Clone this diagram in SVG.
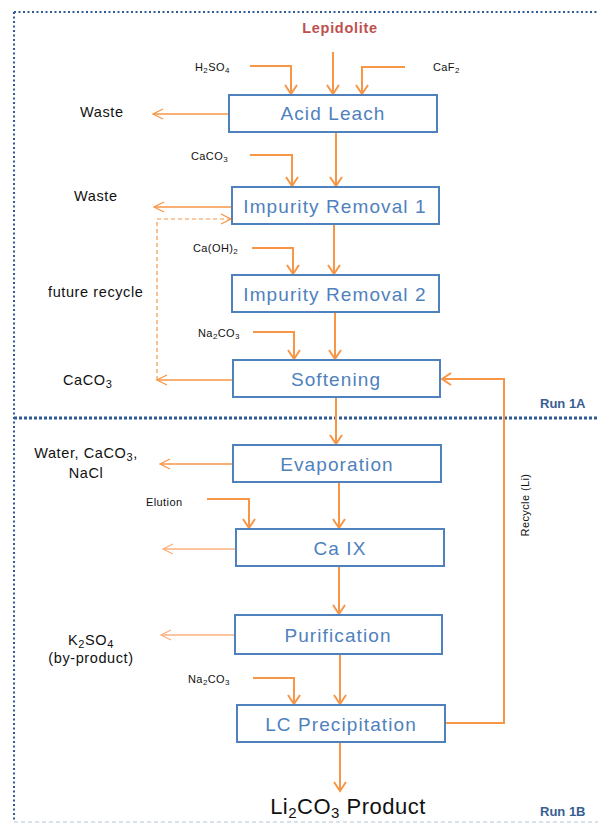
<svg xmlns="http://www.w3.org/2000/svg" width="598" height="824" viewBox="0 0 598 824">
<style>
.box{fill:#fff;stroke:#4F81BD;stroke-width:2}
.bt{font-family:"Liberation Sans",Arial,sans-serif;font-size:19px;fill:#4F81BD;text-anchor:middle;letter-spacing:1.1px}
.lbl{font-family:"Liberation Sans",Arial,sans-serif;font-size:14.5px;fill:#111;letter-spacing:0.6px}
.sm{font-family:"Liberation Sans",Arial,sans-serif;font-size:11px;fill:#111;letter-spacing:0.4px}
.flow{fill:none;stroke:#F79646;stroke-width:2;marker-end:url(#ah)}
.out{fill:none;stroke:#F79646;stroke-width:1.3;marker-end:url(#ah2)}
.out2{fill:none;stroke:#F9B180;stroke-width:1.3;marker-end:url(#ah3)}
.run{font-family:"Liberation Sans",Arial,sans-serif;font-size:13px;font-weight:bold;fill:#376092}
</style>
<defs>
<marker id="ah" viewBox="-10 -10 20 20" refX="0" refY="0" markerWidth="20" markerHeight="20" markerUnits="userSpaceOnUse" orient="auto"><path d="M-9,-6 L0,0 L-9,6" fill="none" stroke="#F79646" stroke-width="2"/></marker>
<marker id="ah2" viewBox="-12 -10 24 20" refX="0" refY="0" markerWidth="24" markerHeight="20" markerUnits="userSpaceOnUse" orient="auto"><path d="M-10,-5 L0,0 L-10,5" fill="none" stroke="#F79646" stroke-width="1.3"/></marker>
<marker id="ah3" viewBox="-12 -10 24 20" refX="0" refY="0" markerWidth="24" markerHeight="20" markerUnits="userSpaceOnUse" orient="auto"><path d="M-10,-5 L0,0 L-10,5" fill="none" stroke="#F9B180" stroke-width="1.3"/></marker>
</defs>

<g id="boundaries">
<path d="M14,12 H598" stroke="#2F5C96" stroke-width="2" stroke-dasharray="2,2.5" fill="none"/>
<path d="M14,12 V822" stroke="#2F5C96" stroke-width="2" stroke-dasharray="2,2.5" fill="none"/>
<path d="M14,418 H598" stroke="#2F5C96" stroke-width="3" stroke-dasharray="3,2" fill="none"/>
<path d="M14,822 H598" stroke="#B8C4D4" stroke-width="1.2" stroke-dasharray="4,3" fill="none"/>
</g>

<g id="connectors">
<path class="flow" d="M333,52 V94"/>
<path class="flow" d="M250,66 H291 V94"/>
<path class="flow" d="M405,67 H362 V94"/>
<path class="flow" d="M336,132 V186"/>
<path class="flow" d="M250,155 H292 V186"/>
<path class="flow" d="M334,224 V274"/>
<path class="flow" d="M252,248 H293 V274"/>
<path class="flow" d="M335,312 V359"/>
<path class="flow" d="M253,332 H294 V359"/>
<path class="flow" d="M336,397 V444"/>
<path class="flow" d="M339,482 V528"/>
<path class="flow" d="M207,499 H249 V528"/>
<path class="flow" d="M339,566 V614"/>
<path class="flow" d="M340,654 V704"/>
<path class="flow" d="M253,678 H294 V704"/>
<path class="flow" d="M340,742 V791"/>
<path class="flow" d="M445,723 H504 V379 H442"/>
<path class="out" d="M229,114 H153"/>
<path class="out" d="M232,207 H154"/>
<path class="out" d="M233,380 H157"/>
<path class="out" d="M233,464 H160"/>
<path class="out2" d="M236,549 H163"/>
<path class="out2" d="M235,635 H161"/>
<path d="M157,380 V219 H231" fill="none" stroke="#F79646" stroke-width="1.2" stroke-dasharray="4,3" marker-end="url(#ah2)"/>
</g>

<g id="acid-leach"><rect class="box" x="229" y="95" width="208" height="37"/><text class="bt" x="333" y="120">Acid Leach</text></g>
<g id="impurity-removal-1"><rect class="box" x="232" y="187" width="207" height="37"/><text class="bt" x="335" y="213">Impurity Removal 1</text></g>
<g id="impurity-removal-2"><rect class="box" x="232" y="275" width="207" height="37"/><text class="bt" x="335" y="301">Impurity Removal 2</text></g>
<g id="softening"><rect class="box" x="233" y="360" width="207" height="37"/><text class="bt" x="336" y="386">Softening</text></g>
<g id="evaporation"><rect class="box" x="233" y="445" width="208" height="37"/><text class="bt" x="337" y="471">Evaporation</text></g>
<g id="ca-ix"><rect class="box" x="236" y="529" width="208" height="37"/><text class="bt" x="340" y="555">Ca IX</text></g>
<g id="purification"><rect class="box" x="235" y="615" width="207" height="39"/><text class="bt" x="338" y="642">Purification</text></g>
<g id="lc-precipitation"><rect class="box" x="237" y="705" width="208" height="37"/><text class="bt" x="341" y="731">LC Precipitation</text></g>

<g id="labels">
<text x="340" y="33" text-anchor="middle" font-family="Liberation Sans, Arial, sans-serif" font-size="14.5" font-weight="bold" fill="#C0504D" letter-spacing="0.7">Lepidolite</text>
<text class="sm" x="195" y="71">H<tspan font-size="8" dy="2">2</tspan><tspan dy="-2">SO</tspan><tspan font-size="8" dy="2">4</tspan></text>
<text class="sm" x="433" y="71">CaF<tspan font-size="8" dy="2">2</tspan></text>
<text class="lbl" x="80" y="117">Waste</text>
<text class="sm" x="191" y="160">CaCO<tspan font-size="8" dy="2">3</tspan></text>
<text class="lbl" x="74" y="201">Waste</text>
<text class="sm" x="193" y="252">Ca(OH)<tspan font-size="8" dy="2">2</tspan></text>
<text class="lbl" x="48" y="297">future recycle</text>
<text class="sm" x="198" y="337">Na<tspan font-size="8" dy="2">2</tspan><tspan dy="-2">CO</tspan><tspan font-size="8" dy="2">3</tspan></text>
<text class="lbl" x="63" y="385">CaCO<tspan font-size="11" dy="3">3</tspan></text>
<text class="run" x="540" y="408">Run 1A</text>
<text class="lbl" x="86" y="458" text-anchor="middle">Water, CaCO<tspan font-size="11" dy="3">3</tspan><tspan dy="-3">,</tspan></text>
<text class="lbl" x="86" y="478" text-anchor="middle">NaCl</text>
<text class="sm" x="146" y="506">Elution</text>
<text class="lbl" x="91" y="645" text-anchor="middle">K<tspan font-size="11" dy="3">2</tspan><tspan dy="-3">SO</tspan><tspan font-size="11" dy="3">4</tspan></text>
<text class="lbl" x="91" y="663" text-anchor="middle">(by-product)</text>
<text class="sm" x="188" y="683">Na<tspan font-size="8" dy="2">2</tspan><tspan dy="-2">CO</tspan><tspan font-size="8" dy="2">3</tspan></text>
<text class="sm" transform="translate(529,505) rotate(-90)" text-anchor="middle" font-size="12" letter-spacing="0.6">Recycle (Li)</text>
<text x="348" y="814" text-anchor="middle" font-family="Liberation Sans, Arial, sans-serif" font-size="22" fill="#111" letter-spacing="0.5">Li<tspan font-size="15" dy="4">2</tspan><tspan dy="-4">CO</tspan><tspan font-size="15" dy="4">3</tspan><tspan dy="-4"> Product</tspan></text>
<text class="run" x="540" y="816">Run 1B</text>
</g>
</svg>
